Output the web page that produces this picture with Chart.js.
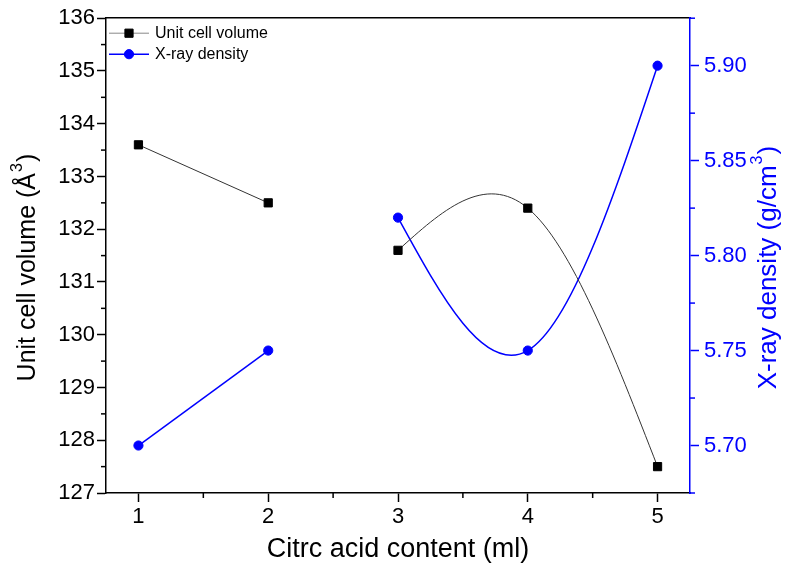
<!DOCTYPE html>
<html>
<head>
<meta charset="utf-8">
<script src="https://cdn.jsdelivr.net/npm/chart.js@4.4.1/dist/chart.umd.min.js"></script>
<style>
  html, body { margin: 0; padding: 0; background: #fff; }
  #wrap { width: 785px; height: 573px; }
</style>
</head>
<body>
<div id="wrap"><canvas id="cellChart"></canvas></div>
<script>
const citricContent = [1, 2, 3, 4, 5];
const cellVolume = [133.6, 132.5, 131.6, 132.4, 127.5];
const xrayDensity = [5.70, 5.75, 5.82, 5.75, 5.90];

const xTicks = [1, 2, 3, 4, 5];
const volumeTicks = [127, 128, 129, 130, 131, 132, 133, 134, 135, 136];
const densityTicks = [5.70, 5.75, 5.80, 5.85, 5.90];

// first two points are joined straight, the last three by a spline
const straightCount = 2;

const FONT = "'Liberation Sans', Arial, sans-serif";
const BLUE = "#0000ff";
const TICK_SIZE = 22;
const TITLE_SIZE = 26;

function part(values, from, to) {
  return citricContent.slice(from, to).map((x, i) => ({ x: x, y: values[from + i] }));
}

function midpoints(ticks) {
  const out = [];
  for (let i = 1; i < ticks.length; i++) out.push((ticks[i - 1] + ticks[i]) / 2);
  return out;
}

// slopes of a natural cubic spline through (xs, ys)
function splineSlopes(xs, ys) {
  const n = xs.length;
  const h = [], d = [];
  for (let i = 0; i < n - 1; i++) {
    h.push(xs[i + 1] - xs[i]);
    d.push((ys[i + 1] - ys[i]) / h[i]);
  }
  // second derivatives, M0 = Mn = 0
  const M = new Array(n).fill(0);
  if (n > 2) {
    const a = [], b = [], c = [], r = [];
    for (let i = 1; i < n - 1; i++) {
      a.push(h[i - 1]); b.push(2 * (h[i - 1] + h[i])); c.push(h[i]);
      r.push(6 * (d[i] - d[i - 1]));
    }
    const m = b.length;
    for (let i = 1; i < m; i++) {
      const w = a[i] / b[i - 1];
      b[i] -= w * c[i - 1];
      r[i] -= w * r[i - 1];
    }
    const sol = new Array(m);
    sol[m - 1] = r[m - 1] / b[m - 1];
    for (let i = m - 2; i >= 0; i--) sol[i] = (r[i] - c[i] * sol[i + 1]) / b[i];
    for (let i = 0; i < m; i++) M[i + 1] = sol[i];
  }
  const slopes = [];
  for (let i = 0; i < n - 1; i++) slopes.push(d[i] - h[i] * (2 * M[i] + M[i + 1]) / 6);
  slopes.push(d[n - 2] + h[n - 2] * (M[n - 2] + 2 * M[n - 1]) / 6);
  return slopes;
}

const volumeStyle = {
  yAxisID: "y",
  borderColor: "#333",
  borderWidth: 1,
  pointStyle: "rect",
  pointRadius: 5.8,
  pointBackgroundColor: "#000",
  pointBorderColor: "#000",
  pointBorderWidth: 1,
};
const densityStyle = {
  yAxisID: "y2",
  borderColor: BLUE,
  borderWidth: 1.5,
  pointStyle: "circle",
  pointRadius: 4.6,
  pointBackgroundColor: BLUE,
  pointBorderColor: BLUE,
  pointBorderWidth: 1,
};

// Origin's "spline" connection: put the natural spline's bezier handles on the line's points
const naturalSpline = {
  id: "naturalSpline",
  beforeDatasetsDraw(chart) {
    chart.data.datasets.forEach((ds, i) => {
      if (!ds.spline) return;
      const meta = chart.getDatasetMeta(i);
      const xs = meta.xScale, ys = meta.yScale;
      meta.dataset.updateControlPoints(chart.chartArea);
      const px = ds.data.map((p) => p.x), py = ds.data.map((p) => p.y);
      const m = splineSlopes(px, py);
      meta.data.forEach((el, k) => {
        if (k < px.length - 1) {
          const h = (px[k + 1] - px[k]) / 3;
          el.cp2x = xs.getPixelForValue(px[k] + h);
          el.cp2y = ys.getPixelForValue(py[k] + m[k] * h);
        }
        if (k > 0) {
          const h = (px[k] - px[k - 1]) / 3;
          el.cp1x = xs.getPixelForValue(px[k] - h);
          el.cp1y = ys.getPixelForValue(py[k] - m[k] * h);
        }
      });
    });
  },
};

// minor tick marks, drawn from the scales
const minorTicks = {
  id: "minorTicks",
  afterDraw(chart) {
    const { ctx, scales, chartArea: a } = chart;
    ctx.save();
    ctx.lineWidth = 1.5;
    ctx.strokeStyle = "#000";
    midpoints(xTicks).forEach((v) => {
      const px = scales.x.getPixelForValue(v);
      ctx.beginPath(); ctx.moveTo(px, a.bottom); ctx.lineTo(px, a.bottom + 5); ctx.stroke();
    });
    midpoints(volumeTicks).forEach((v) => {
      const py = scales.y.getPixelForValue(v);
      ctx.beginPath(); ctx.moveTo(a.left, py); ctx.lineTo(a.left - 5, py); ctx.stroke();
    });
    ctx.strokeStyle = BLUE;
    const step = densityTicks[1] - densityTicks[0];
    [densityTicks[0] - step / 2, ...midpoints(densityTicks), densityTicks[densityTicks.length - 1] + step / 2].forEach((v) => {
      const py = scales.y2.getPixelForValue(v);
      ctx.beginPath(); ctx.moveTo(a.right, py); ctx.lineTo(a.right + 5, py); ctx.stroke();
    });
    ctx.restore();
  },
};

function rotatedTitle(ctx, text, sup, tail, x, y, color, size) {
  ctx.save();
  ctx.translate(x, y);
  ctx.rotate(-Math.PI / 2);
  ctx.fillStyle = color;
  ctx.textBaseline = "middle";
  ctx.textAlign = "left";
  const big = size + "px " + FONT, small = Math.round(size * 0.62) + "px " + FONT;
  ctx.font = big;
  const w1 = ctx.measureText(text).width, w3 = ctx.measureText(tail).width;
  ctx.font = small;
  const w2 = ctx.measureText(sup).width;
  let cx = -(w1 + w2 + w3) / 2;
  ctx.font = big;
  ctx.fillText(text, cx, 0);
  cx += w1;
  ctx.font = small;
  ctx.fillText(sup, cx + 1, -size * 0.42);
  cx += w2 + 2;
  ctx.font = big;
  ctx.fillText(tail, cx, 0);
  ctx.restore();
}

const axisTitles = {
  id: "axisTitles",
  afterDraw(chart) {
    const { ctx, chartArea: a } = chart;
    ctx.save();
    ctx.font = "27px " + FONT;
    ctx.fillStyle = "#000";
    ctx.textAlign = "center";
    ctx.textBaseline = "middle";
    ctx.fillText("Citrc acid content (ml)", (a.left + a.right) / 2, a.bottom + 57);
    ctx.restore();
    const midY = (a.top + a.bottom) / 2 + 13;
    rotatedTitle(ctx, "Unit cell volume (Å", "3", ")", a.left - 78, midY, "#000", 25);
    rotatedTitle(ctx, "X-ray density (g/cm", "3", ")", a.right + 79, midY, BLUE, TITLE_SIZE);
  },
};

// legend in the top left corner of the plot, line with marker like Origin
const cornerLegend = {
  id: "cornerLegend",
  afterDraw(chart) {
    const { ctx, chartArea: a } = chart;
    const rows = chart.data.datasets.filter((d) => !d.spline);
    ctx.save();
    ctx.font = "16px " + FONT;
    ctx.textBaseline = "middle";
    rows.forEach((d, i) => {
      const y = a.top + 15 + i * 21;
      const x0 = a.left + 3;
      ctx.strokeStyle = d.pointStyle === "rect" ? "#888" : d.borderColor;
      ctx.lineWidth = d.borderWidth;
      ctx.beginPath(); ctx.moveTo(x0, y); ctx.lineTo(x0 + 40, y); ctx.stroke();
      ctx.fillStyle = d.pointBackgroundColor;
      ctx.strokeStyle = d.pointBorderColor;
      ctx.lineWidth = d.pointBorderWidth;
      ctx.beginPath();
      if (d.pointStyle === "rect") {
        const s = d.pointRadius * Math.SQRT1_2;
        ctx.rect(x0 + 20 - s, y - s, 2 * s, 2 * s);
      } else {
        ctx.arc(x0 + 20, y, d.pointRadius, 0, Math.PI * 2);
      }
      ctx.fill(); ctx.stroke();
      ctx.fillStyle = "#000";
      ctx.fillText(d.label, x0 + 46, y);
    });
    ctx.restore();
  },
};

const ctx = document.getElementById("cellChart");

new Chart(ctx, {
  type: "line",
  data: {
    datasets: [
      Object.assign({ label: "Unit cell volume", data: part(cellVolume, 0, straightCount), tension: 0 }, volumeStyle),
      Object.assign({ label: "Unit cell volume", spline: true, data: part(cellVolume, straightCount, citricContent.length), tension: 0.4 }, volumeStyle),
      Object.assign({ label: "X-ray density", data: part(xrayDensity, 0, straightCount), tension: 0 }, densityStyle),
      Object.assign({ label: "X-ray density", spline: true, data: part(xrayDensity, straightCount, citricContent.length), tension: 0.4 }, densityStyle),
    ],
  },
  options: {
    animation: false,
    responsive: true,
    maintainAspectRatio: false,
    layout: { padding: 0 },
    plugins: {
      legend: { display: false },
      tooltip: { enabled: false },
    },
    scales: {
      x: {
        type: "linear",
        position: "bottom",
        min: 0.75,
        max: 5.25,
        afterBuildTicks: (s) => { s.ticks = xTicks.map((v) => ({ value: v })); },
        afterFit: (s) => { s.height = 80; },
        ticks: { color: "#000", font: { family: FONT, size: TICK_SIZE }, padding: 2, maxRotation: 0 },
        grid: { drawOnChartArea: false, tickLength: 9, tickWidth: 1.5, tickColor: "#000" },
        border: { color: "#000", width: 1.5 },
      },
      xTop: {
        type: "linear",
        position: "top",
        min: 0.75,
        max: 5.25,
        afterFit: (s) => { s.height = 14; },
        ticks: { display: false },
        grid: { display: false },
        border: { color: "#000", width: 1.5 },
      },
      y: {
        position: "left",
        min: 127,
        max: 136,
        afterBuildTicks: (s) => { s.ticks = volumeTicks.map((v) => ({ value: v })); },
        afterFit: (s) => { s.width = 106; },
        ticks: { color: "#000", font: { family: FONT, size: TICK_SIZE }, padding: 2 },
        grid: { drawOnChartArea: false, tickLength: 9, tickWidth: 1.5, tickColor: "#000" },
        border: { color: "#000", width: 1.5 },
      },
      y2: {
        position: "right",
        min: 5.675,
        max: 5.925,
        afterBuildTicks: (s) => { s.ticks = densityTicks.map((v) => ({ value: v })); },
        afterFit: (s) => { s.width = 95; },
        ticks: { color: BLUE, font: { family: FONT, size: TICK_SIZE }, padding: 5, callback: (v) => v.toFixed(2) },
        grid: { drawOnChartArea: false, tickLength: 9, tickWidth: 1.5, tickColor: BLUE },
        border: { color: BLUE, width: 1.5 },
      },
    },
  },
  plugins: [naturalSpline, minorTicks, axisTitles, cornerLegend],
});
</script>
</body>
</html>
